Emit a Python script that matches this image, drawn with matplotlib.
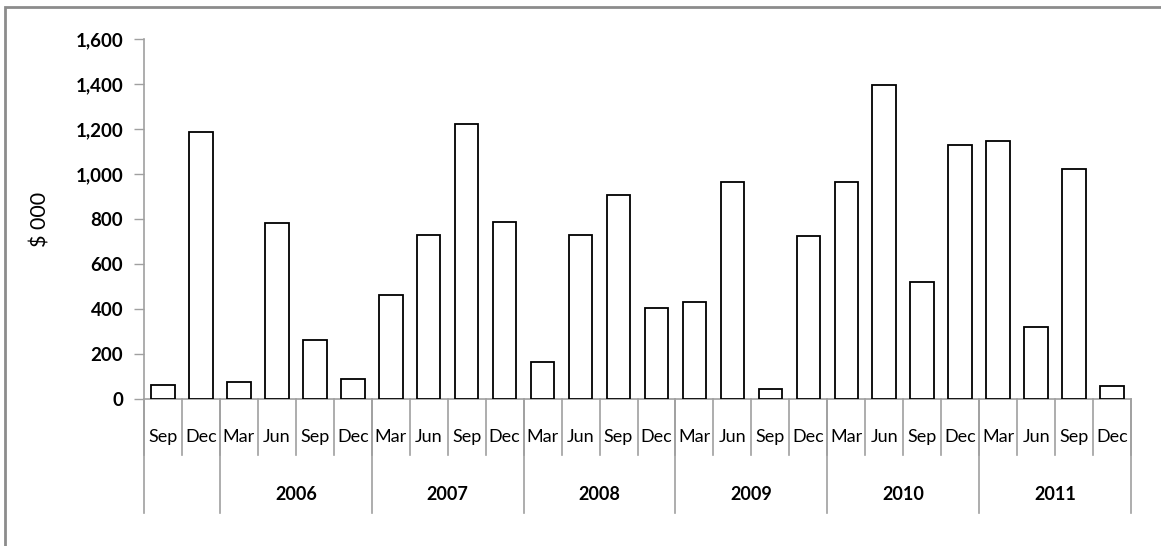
import matplotlib
matplotlib.use("Agg")
import matplotlib.pyplot as plt
from matplotlib.patches import Rectangle

# Quarterly amounts, Sep 2005 - Dec 2011 ($ thousands)
quarters = ["Sep", "Dec",
            "Mar", "Jun", "Sep", "Dec",
            "Mar", "Jun", "Sep", "Dec",
            "Mar", "Jun", "Sep", "Dec",
            "Mar", "Jun", "Sep", "Dec",
            "Mar", "Jun", "Sep", "Dec",
            "Mar", "Jun", "Sep", "Dec"]
amounts = [62, 1185,
           74, 782, 262, 90,
           462, 729, 1221, 787,
           166, 729, 907, 406,
           433, 963, 46, 724,
           963, 1397, 518, 1129,
           1147, 320, 1021, 58]
years = ["", "2006", "2007", "2008", "2009", "2010", "2011"]
year_sizes = [2, 4, 4, 4, 4, 4, 4]

W, H = 1161, 546
fig = plt.figure(figsize=(W / 100, H / 100), dpi=100)
plt.rcParams["font.family"] = ["Lato", "DejaVu Sans"]

# outer chart frame (left/top edges only visible)
fig.add_artist(Rectangle((5 / W, -0.1), 1.2, (H - 7) / H + 0.1,
                         transform=fig.transFigure, fill=False,
                         edgecolor="#8c8c8c", linewidth=2))

ax = fig.add_axes([144 / W, 147 / H, (1131 - 144) / W, 360 / H])
x = list(range(len(amounts)))
ax.bar(x, amounts, width=0.62, color="white", edgecolor="black", linewidth=1.3,
       zorder=3)

ax.set_xlim(-0.5, len(amounts) - 0.5)
ax.set_ylim(0, 1600)
ax.set_yticks(range(0, 1601, 200))
ax.set_yticklabels([f"{v:,}" for v in range(0, 1601, 200)],
                   fontsize=13.5, fontweight="bold")
ax.tick_params(axis="y", direction="out", length=7, color="#a0a0a0",
               width=1, pad=8)
ax.set_xticks([])
for side in ["top", "right"]:
    ax.spines[side].set_visible(False)
for side in ["left", "bottom"]:
    ax.spines[side].set_color("#a0a0a0")
    ax.spines[side].set_linewidth(1.2)

ax.set_ylabel("$ 000", fontsize=15.5, labelpad=18)

# two-level category axis: quarter labels, then year groups
trans = ax.get_xaxis_transform()
for i, q in enumerate(quarters):
    ax.text(i, -0.106, q, transform=trans, ha="center", va="center",
            fontsize=13)
for b in range(len(quarters) + 1):
    ax.plot([b - 0.5, b - 0.5], [0, -0.156], transform=trans,
            color="#a0a0a0", linewidth=1.2, clip_on=False)

start = 0
for label, n in zip(years, year_sizes):
    ax.plot([start - 0.5, start - 0.5], [0, -0.317], transform=trans,
            color="#a0a0a0", linewidth=1.2, clip_on=False)
    if label:
        ax.text(start + (n - 1) / 2, -0.264, label, transform=trans,
                ha="center", va="center", fontsize=13, fontweight="bold")
    start += n
ax.plot([start - 0.5, start - 0.5], [0, -0.317], transform=trans,
        color="#a0a0a0", linewidth=1.2, clip_on=False)

fig.savefig("out.png", dpi=100)
